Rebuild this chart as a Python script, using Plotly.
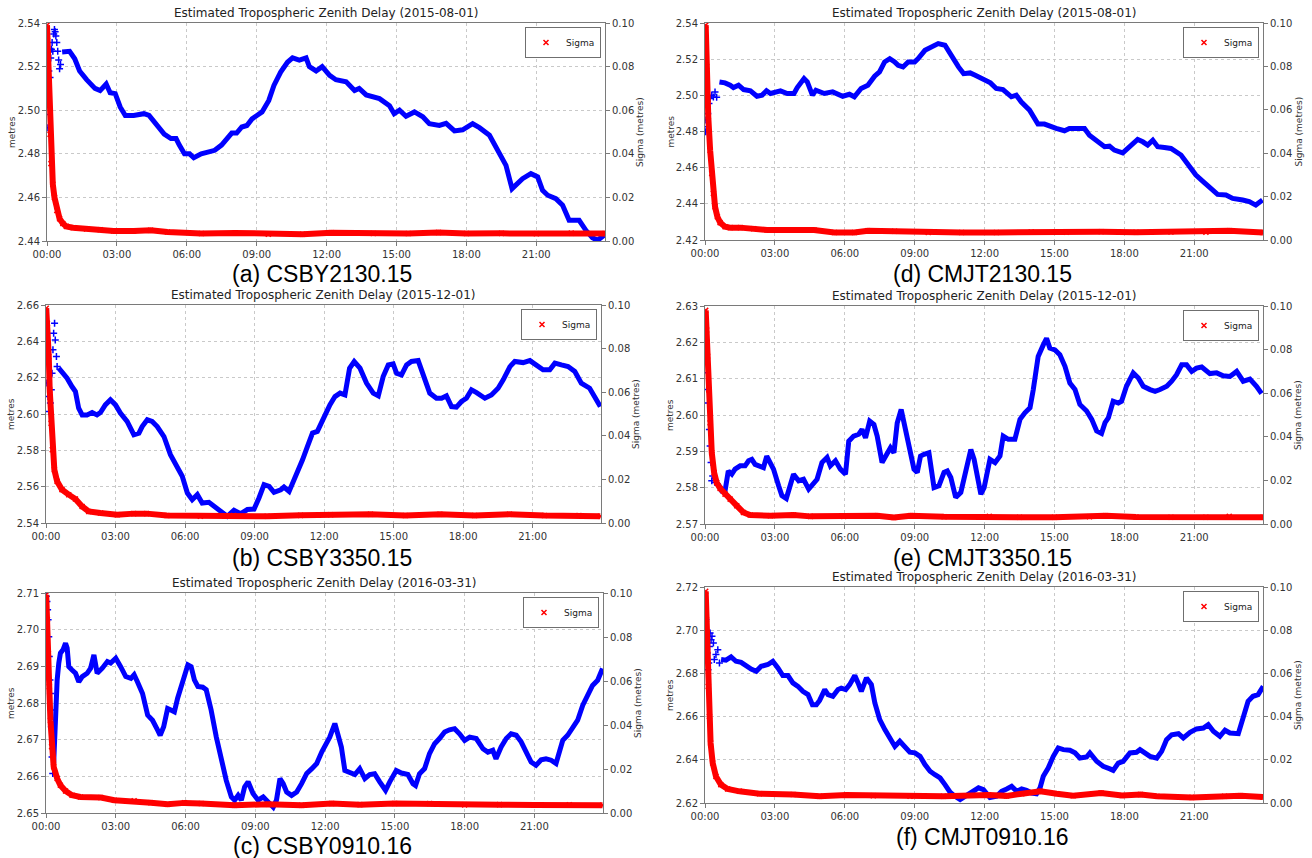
import plotly.graph_objects as go

# ---------------- DATA (hours of day, metres) ----------------
tick_hours = [0, 3, 6, 9, 12, 15, 18, 21]
tick_labels = ["00:00", "03:00", "06:00", "09:00", "12:00", "15:00", "18:00", "21:00"]

captions = ["(a) CSBY2130.15", "(d) CMJT2130.15", "(b) CSBY3350.15",
            "(e) CMJT3350.15", "(c) CSBY0910.16", "(f) CMJT0910.16"]
dates = ["2015-08-01", "2015-08-01", "2015-12-01", "2015-12-01", "2016-03-31", "2016-03-31"]

# (a) CSBY2130.15
a_early_t = [0.02, 0.04, 0.06, 0.08, 0.1, 0.13, 0.16, 0.19, 0.22, 0.25, 0.29, 0.32, 0.35, 0.38, 0.42, 0.46, 0.5, 0.54, 0.58]
a_early_v = [2.505, 2.492, 2.511, 2.518, 2.498, 2.515, 2.524, 2.528, 2.531, 2.527, 2.535, 2.537, 2.536, 2.534, 2.531, 2.527, 2.523, 2.519, 2.521]
a_t = [0.65, 0.97, 1.19, 1.4, 1.7, 2.06, 2.28, 2.54, 2.71, 2.93, 3.14, 3.36, 3.72, 4.16, 4.38, 4.74, 5.03, 5.32, 5.54, 5.68,
       5.9, 6.12, 6.3, 6.62, 6.91, 7.2, 7.49, 7.78, 7.93, 8.14, 8.36, 8.58, 8.8, 9.01, 9.23, 9.52, 9.74, 10.03, 10.32, 10.54,
       10.83, 11.12, 11.26, 11.55, 11.81, 12.13, 12.4, 12.84, 13.2, 13.4, 13.7, 14.27, 14.7, 14.9, 15.13, 15.41, 15.77, 16.13,
       16.41, 16.84, 17.13, 17.49, 17.84, 18.27, 18.56, 18.99, 19.41, 19.7, 19.96, 20.13, 20.41, 20.77, 21.06, 21.27, 21.49,
       21.84, 22.13, 22.41, 22.84, 23.13, 23.41, 23.63, 23.91]
a_v = [2.5267, 2.527, 2.5236, 2.518, 2.514, 2.510, 2.509, 2.512, 2.508, 2.5076, 2.5015, 2.4976, 2.4976, 2.4984, 2.4976, 2.493,
       2.489, 2.487, 2.487, 2.484, 2.480, 2.480, 2.4782, 2.480, 2.4808, 2.4816, 2.484, 2.4877, 2.4895, 2.4895, 2.4923, 2.493,
       2.496, 2.4976, 2.4992, 2.5045, 2.5114, 2.5175, 2.522, 2.524, 2.523, 2.524, 2.520, 2.518, 2.520, 2.516, 2.514, 2.513,
       2.509, 2.510, 2.507, 2.5053, 2.502, 2.4984, 2.500, 2.4972, 2.4992, 2.497, 2.4938, 2.493, 2.494, 2.4905, 2.491, 2.4938,
       2.492, 2.4885, 2.481, 2.4747, 2.464, 2.4655, 2.4686, 2.4709, 2.4694, 2.4632, 2.461, 2.4594, 2.4564, 2.4495, 2.4495,
       2.4449, 2.4415, 2.4403, 2.4426]
a_sig_t = [0, 0.02, 0.07, 0.13, 0.17, 0.25, 0.32, 0.42, 0.54, 0.68, 0.83, 1.12, 1.7, 2.28, 2.86, 3.72, 4.45, 5.17, 6.62, 8.07,
           9.5, 10.97, 12.2, 14, 15.5, 16.8, 18, 19.5, 21, 22.5, 23.95]
a_sig = [0.099, 0.092, 0.072, 0.049, 0.0355, 0.026, 0.020, 0.014, 0.0102, 0.008, 0.0067, 0.0061, 0.0055, 0.0052, 0.0046,
         0.0046, 0.0049, 0.0041, 0.0034, 0.0037, 0.0031, 0.0031, 0.0038, 0.0034, 0.0034, 0.0039, 0.0034, 0.0035, 0.0033,
         0.0036, 0.0034]

# (d) CMJT2130.15
d_early_t = [0.03, 0.04, 0.07, 0.09, 0.12, 0.17, 0.22, 0.29, 0.36, 0.43, 0.5]
d_early_v = [2.4798, 2.4863, 2.4826, 2.4936, 2.49, 2.4955, 2.4982, 2.500, 2.4991, 2.5019, 2.499]
d_t = [0.62, 0.86, 1.08, 1.22, 1.44, 1.66, 1.95, 2.23, 2.45, 2.64, 2.81, 3.24, 3.53, 3.82, 3.96, 4.25, 4.39, 4.61, 4.76, 5.12,
       5.48, 5.69, 5.91, 6.2, 6.41, 6.7, 6.99, 7.28, 7.49, 7.71, 7.93, 8.14, 8.29, 8.5, 8.72, 9.0, 9.15, 9.44, 9.73, 10.01,
       10.3, 10.59, 10.88, 11.1, 11.38, 11.6, 11.89, 12.25, 12.5, 12.79, 13.15, 13.36, 13.57, 13.93, 14.29, 14.57, 15.07,
       15.43, 15.64, 15.93, 16.29, 16.5, 16.79, 17.15, 17.36, 17.57, 17.93, 18.22, 18.57, 18.79, 19.0, 19.22, 19.43, 19.72,
       20.0, 20.43, 20.79, 21.07, 21.43, 21.72, 22.0, 22.36, 22.65, 23.08, 23.36, 23.64, 23.93]
d_v = [2.5074, 2.5069, 2.5056, 2.5043, 2.5056, 2.5032, 2.5025, 2.4995, 2.5001, 2.5025, 2.501, 2.5025, 2.501, 2.501, 2.5043,
       2.5093, 2.5074, 2.5001, 2.5028, 2.501, 2.5019, 2.5006, 2.4995, 2.5006, 2.4992, 2.5038, 2.5056, 2.5106, 2.513, 2.5185,
       2.5203, 2.5185, 2.5166, 2.5157, 2.5185, 2.5185, 2.5203, 2.5249, 2.5268, 2.5286, 2.5277, 2.5212, 2.5157, 2.512, 2.5124,
       2.5111, 2.5093, 2.5069, 2.5038, 2.5032, 2.4992, 2.5001, 2.4964, 2.4918, 2.4841, 2.4841, 2.4817, 2.4804, 2.4817, 2.4817,
       2.4817, 2.478, 2.4752, 2.4716, 2.4719, 2.4697, 2.4682, 2.4716, 2.4756, 2.4743, 2.4725, 2.4752, 2.4716, 2.4712, 2.4706,
       2.467, 2.4605, 2.4559, 2.4517, 2.448, 2.4452, 2.4449, 2.443, 2.4421, 2.4412, 2.4393, 2.4421]
d_sig_t = [0.03, 0.07, 0.14, 0.22, 0.29, 0.36, 0.43, 0.53, 0.65, 0.86, 1.08, 1.51, 2.09, 2.66, 3.82, 4.68, 5.55, 6.41, 6.99,
           8.14, 9.58, 11.02, 12.5, 14, 15.5, 17, 18.5, 20, 21.5, 22.5, 23.95]
d_sig = [0.099, 0.080, 0.057, 0.0414, 0.0307, 0.0215, 0.0153, 0.0107, 0.008, 0.0061, 0.0057, 0.0057, 0.0052, 0.0046, 0.0046,
         0.0046, 0.0035, 0.0035, 0.0043, 0.004, 0.0035, 0.0035, 0.0035, 0.0037, 0.0036, 0.0038, 0.0036, 0.0037, 0.0036,
         0.0043, 0.0035]

# (b) CSBY3350.15
b_early_t = [0.04, 0.09, 0.13, 0.19, 0.23, 0.26, 0.30, 0.33, 0.37, 0.40, 0.45, 0.48]
b_early_v = [2.617, 2.6096, 2.6014, 2.606, 2.6133, 2.6224, 2.6353, 2.6444, 2.6499, 2.6408, 2.6316, 2.6261]
b_t = [0.55, 0.69, 0.91, 1.12, 1.27, 1.41, 1.56, 1.77, 1.99, 2.2, 2.35, 2.56, 2.78, 3.0, 3.21, 3.5, 3.79, 4.01, 4.15, 4.37,
       4.58, 4.8, 5.09, 5.37, 5.66, 5.88, 6.1, 6.31, 6.53, 6.74, 7.03, 7.25, 7.54, 7.82, 8.11, 8.4, 8.69, 8.98, 9.19, 9.41,
       9.63, 9.84, 10.13, 10.27, 10.49, 10.78, 11.07, 11.28, 11.5, 11.71, 11.93, 12.25, 12.47, 12.69, 12.9, 13.1, 13.3,
       13.55, 13.83, 14.12, 14.34, 14.55, 14.77, 14.98, 15.13, 15.34, 15.56, 15.77, 16.06, 16.28, 16.56, 16.85, 17.07,
       17.28, 17.5, 17.71, 17.93, 18.14, 18.36, 18.58, 18.94, 19.22, 19.51, 19.73, 20.02, 20.23, 20.59, 20.88, 21.17,
       21.45, 21.74, 21.96, 22.24, 22.53, 22.82, 23.1, 23.46, 23.68, 23.92]
b_v = [2.6252, 2.6234, 2.6197, 2.6151, 2.6124, 2.6032, 2.5995, 2.5995, 2.6008, 2.5995, 2.6008, 2.605, 2.6078, 2.605, 2.6005,
       2.5959, 2.5886, 2.5895, 2.5931, 2.5968, 2.5959, 2.5931, 2.5876, 2.5776, 2.5711, 2.5657, 2.5565, 2.5528, 2.5556, 2.551,
       2.5514, 2.5492, 2.5464, 2.5437, 2.547, 2.5451, 2.5474, 2.5477, 2.5538, 2.5611, 2.5602, 2.5569, 2.5583, 2.5598, 2.5574,
       2.5657, 2.5748, 2.5821, 2.5895, 2.5904, 2.5968, 2.605, 2.6096, 2.6115, 2.6105, 2.6252, 2.6289, 2.6252, 2.617, 2.6115,
       2.61, 2.6206, 2.627, 2.6276, 2.6224, 2.6215, 2.627, 2.6289, 2.6294, 2.6206, 2.6115, 2.6087, 2.6087, 2.61, 2.6041,
       2.6038, 2.6069, 2.6087, 2.6133, 2.6118, 2.6087, 2.6105, 2.6142, 2.6188, 2.6261, 2.6289, 2.6283, 2.6294, 2.627,
       2.6243, 2.6243, 2.628, 2.627, 2.6261, 2.6234, 2.617, 2.6142, 2.6096, 2.6041]
b_sig_t = [0.01, 0.06, 0.12, 0.16, 0.22, 0.27, 0.36, 0.48, 0.69, 0.98, 1.27, 1.56, 1.84, 2.35, 3.07, 3.79, 4.35, 5.22, 6.66,
           8.1, 9.54, 10.99, 12.29, 14, 15.5, 17, 18.5, 20, 21.5, 23, 23.92]
b_sig = [0.0985, 0.0916, 0.0763, 0.061, 0.0458, 0.0336, 0.0244, 0.0191, 0.0153, 0.013, 0.011, 0.0076, 0.0053, 0.0046, 0.0038,
         0.0043, 0.0043, 0.0034, 0.0031, 0.0034, 0.0031, 0.0035, 0.0038, 0.004, 0.0034, 0.004, 0.0034, 0.004, 0.0034,
         0.0034, 0.0031]

# (e) CMJT3350.15
e_early_t = [0.03, 0.06, 0.09, 0.11, 0.14, 0.19, 0.22, 0.26, 0.29, 0.33, 0.43]
e_early_v = [2.6207, 2.6161, 2.6116, 2.607, 2.6033, 2.596, 2.5915, 2.5869, 2.5819, 2.5832, 2.5814]
e_t = [0.57, 0.72, 0.86, 1.0, 1.15, 1.29, 1.51, 1.72, 1.87, 2.01, 2.15, 2.37, 2.51, 2.65, 2.8, 2.94, 3.16, 3.3, 3.49, 3.66,
       3.8, 4.02, 4.23, 4.45, 4.66, 4.81, 5.02, 5.24, 5.38, 5.6, 5.81, 6.03, 6.17, 6.38, 6.6, 6.74, 6.89, 7.07, 7.25, 7.39,
       7.6, 7.82, 7.96, 8.11, 8.25, 8.42, 8.61, 8.75, 8.97, 9.11, 9.25, 9.4, 9.61, 9.83, 10.04, 10.26, 10.4, 10.55, 10.76,
       10.98, 11.19, 11.41, 11.55, 11.69, 11.84, 11.98, 12.23, 12.45, 12.66, 12.8, 13.02, 13.3, 13.52, 13.73, 13.95, 14.09,
       14.3, 14.52, 14.66, 14.8, 15.02, 15.23, 15.45, 15.66, 15.88, 16.09, 16.38, 16.6, 16.81, 17.02, 17.17, 17.31, 17.52,
       17.74, 17.88, 18.09, 18.38, 18.6, 18.81, 19.1, 19.32, 19.53, 19.82, 20.03, 20.24, 20.46, 20.67, 20.89, 21.1, 21.32,
       21.67, 21.96, 22.24, 22.53, 22.82, 23.1, 23.39, 23.67, 23.89]
e_v = [2.581, 2.5791, 2.5791, 2.5846, 2.5837, 2.5851, 2.586, 2.586, 2.5874, 2.5878, 2.5864, 2.586, 2.5855, 2.5887, 2.5864,
       2.5851, 2.5805, 2.5778, 2.577, 2.5805, 2.5837, 2.5819, 2.5823, 2.5796, 2.581, 2.5823, 2.5869, 2.5883, 2.586, 2.5874,
       2.5851, 2.5837, 2.5928, 2.5942, 2.5947, 2.596, 2.5937, 2.5983, 2.5974, 2.5942, 2.5869, 2.5892, 2.591, 2.5896, 2.5978,
       2.6015, 2.596, 2.5915, 2.5851, 2.5842, 2.5887, 2.5892, 2.5896, 2.58, 2.5805, 2.5842, 2.5846, 2.5828, 2.5773, 2.5787,
       2.5851, 2.5905, 2.5878, 2.5828, 2.5782, 2.58, 2.5878, 2.5869, 2.5887, 2.5942, 2.5933, 2.5933, 2.5988, 2.6006, 2.602,
       2.607, 2.6161, 2.6193, 2.6211, 2.6184, 2.6179, 2.6166, 2.6134, 2.6088, 2.607, 2.6029, 2.6011, 2.5988, 2.5956, 2.5949,
       2.5979, 2.5992, 2.6038, 2.6033, 2.6038, 2.6079, 2.6116, 2.6102, 2.6079, 2.607, 2.6065, 2.607, 2.6079, 2.6093, 2.6111,
       2.6138, 2.6138, 2.612, 2.6129, 2.6132, 2.6114, 2.6116, 2.6108, 2.6106, 2.612, 2.6093, 2.6099, 2.6079, 2.6059]
e_sig_t = [0.03, 0.07, 0.11, 0.16, 0.22, 0.29, 0.39, 0.5, 0.65, 0.86, 1.08, 1.36, 1.65, 1.94, 2.8, 3.8, 4.52, 5.96, 7.39,
           8.11, 8.82, 10.26, 12.2, 13.5, 15, 16.5, 17.2, 18.5, 20, 21.5, 22.5, 23.95]
e_sig = [0.098, 0.089, 0.077, 0.0616, 0.0464, 0.0327, 0.0236, 0.019, 0.0163, 0.0137, 0.0114, 0.0084, 0.0053, 0.0041, 0.0038,
         0.0041, 0.0035, 0.0035, 0.0038, 0.003, 0.0038, 0.0033, 0.0035, 0.0031, 0.0031, 0.0033, 0.0038, 0.0032, 0.0031,
         0.0031, 0.0035, 0.0031]

# (c) CSBY0910.16
c_early_t = [0.01, 0.04, 0.07, 0.09, 0.12, 0.14, 0.17, 0.19, 0.22, 0.23, 0.26, 0.29]
c_early_v = [2.7091, 2.7077, 2.7054, 2.7027, 2.6981, 2.6927, 2.6863, 2.6826, 2.6781, 2.6735, 2.6653, 2.6608]
c_t = [0.33, 0.37, 0.42, 0.48, 0.55, 0.62, 0.73, 0.84, 0.91, 0.98, 1.12, 1.27, 1.41, 1.56, 1.77, 1.92, 2.06, 2.2, 2.42, 2.64,
       2.78, 3.0, 3.21, 3.43, 3.65, 3.79, 3.93, 4.15, 4.37, 4.58, 4.8, 4.91, 5.06, 5.23, 5.37, 5.52, 5.66, 5.88, 6.1, 6.24,
       6.38, 6.53, 6.74, 6.89, 7.1, 7.32, 7.54, 7.75, 7.97, 8.11, 8.26, 8.4, 8.54, 8.69, 8.9, 9.12, 9.34, 9.55, 9.77, 9.91,
       10.06, 10.2, 10.35, 10.56, 10.78, 10.99, 11.21, 11.43, 11.64, 11.86, 12.07, 12.2, 12.42, 12.56, 12.7, 12.85, 13.06,
       13.28, 13.49, 13.71, 13.92, 14.13, 14.35, 14.6, 14.78, 15.06, 15.28, 15.56, 15.78, 15.89, 16.06, 16.28, 16.49, 16.71,
       16.92, 17.14, 17.35, 17.57, 17.78, 18.0, 18.22, 18.5, 18.79, 19.0, 19.21, 19.35, 19.57, 19.79, 20.0, 20.22, 20.43,
       20.65, 20.86, 21.07, 21.29, 21.5, 21.72, 21.93, 22.07, 22.22, 22.43, 22.65, 22.86, 23.08, 23.29, 23.5, 23.72, 23.93]
c_v = [2.6635, 2.6726, 2.6799, 2.6863, 2.6909, 2.6936, 2.6945, 2.6963, 2.695, 2.6899, 2.689, 2.6881, 2.6858, 2.6872, 2.6881,
       2.6895, 2.6931, 2.6881, 2.6895, 2.6913, 2.6909, 2.6922, 2.6899, 2.6872, 2.6867, 2.6877, 2.6858, 2.6826, 2.6767,
       2.6753, 2.6726, 2.6712, 2.6735, 2.6785, 2.6781, 2.6776, 2.6813, 2.6863, 2.6904, 2.6899, 2.6863, 2.6845, 2.6843,
       2.6836, 2.6781, 2.6708, 2.6644, 2.6589, 2.6544, 2.6535, 2.6548, 2.6535, 2.6571, 2.6585, 2.6553, 2.6535, 2.6544,
       2.653, 2.6516, 2.6535, 2.6594, 2.658, 2.6557, 2.6548, 2.6557, 2.658, 2.6608, 2.6621, 2.6635, 2.6667, 2.669, 2.6707,
       2.6744, 2.6712, 2.668, 2.6616, 2.6612, 2.6605, 2.6621, 2.6594, 2.6605, 2.6607, 2.6585, 2.6562, 2.6585, 2.6616,
       2.6609, 2.6605, 2.658, 2.6575, 2.6607, 2.6621, 2.6662, 2.6689, 2.6703, 2.6721, 2.6727, 2.673, 2.6716, 2.6698,
       2.6707, 2.6703, 2.6675, 2.6666, 2.6671, 2.6648, 2.668, 2.6703, 2.6716, 2.6712, 2.6694, 2.6662, 2.6639, 2.663,
       2.6645, 2.6648, 2.6644, 2.6635, 2.6662, 2.6698, 2.6712, 2.6735, 2.6753, 2.6794, 2.6825, 2.6848, 2.6862, 2.6894]
c_sig_t = [0.01, 0.06, 0.1, 0.14, 0.19, 0.24, 0.33, 0.48, 0.62, 0.84, 1.12, 1.48, 2.36, 2.94, 3.79, 4.51, 5.23, 5.95, 6.67,
           8.11, 9.55, 10.99, 12.29, 13.5, 15, 16.5, 18, 19.5, 21, 22.5, 23.93]
c_sig = [0.0992, 0.0878, 0.0726, 0.0574, 0.0422, 0.0301, 0.021, 0.0157, 0.0126, 0.01, 0.0081, 0.0073, 0.007, 0.0058, 0.0055,
         0.0047, 0.004, 0.0046, 0.0043, 0.0035, 0.004, 0.0035, 0.0043, 0.0038, 0.0043, 0.0043, 0.0037, 0.0038, 0.0036,
         0.0037, 0.0035]

# (f) CMJT0910.16
f_early_t = [0.01, 0.04, 0.07, 0.1, 0.13, 0.16, 0.19, 0.22, 0.26, 0.3, 0.36, 0.4, 0.47, 0.55, 0.62]
f_early_v = [2.711, 2.7049, 2.6972, 2.6894, 2.6817, 2.6848, 2.6925, 2.6987, 2.6956, 2.6972, 2.6941, 2.6864, 2.6887, 2.691, 2.6848]
f_t = [0.69, 0.9, 1.12, 1.33, 1.55, 1.76, 1.98, 2.2, 2.41, 2.7, 2.91, 3.13, 3.34, 3.56, 3.77, 3.99, 4.2, 4.42, 4.61, 4.78,
       4.92, 5.14, 5.28, 5.49, 5.71, 5.85, 6.04, 6.21, 6.43, 6.57, 6.71, 6.93, 7.14, 7.29, 7.5, 7.72, 7.93, 8.15, 8.36, 8.58,
       8.79, 9.01, 9.23, 9.44, 9.66, 9.87, 10.09, 10.3, 10.52, 10.73, 10.95, 11.16, 11.45, 11.74, 11.95, 12.23, 12.52,
       12.73, 12.95, 13.16, 13.38, 13.59, 13.8, 14.02, 14.23, 14.38, 14.52, 14.73, 14.95, 15.16, 15.38, 15.66, 15.88, 16.09,
       16.38, 16.52, 16.81, 17.09, 17.38, 17.52, 17.74, 17.95, 18.24, 18.52, 18.67, 18.88, 19.1, 19.39, 19.6, 19.81, 20.03,
       20.32, 20.53, 20.82, 21.1, 21.39, 21.6, 21.82, 22.1, 22.32, 22.53, 22.89, 23.1, 23.31, 23.52, 23.74, 23.96]
f_v = [2.6864, 2.6861, 2.6876, 2.6856, 2.6851, 2.6833, 2.682, 2.681, 2.6833, 2.6841, 2.6856, 2.6825, 2.679, 2.679, 2.6756,
       2.674, 2.6717, 2.6702, 2.6655, 2.6655, 2.6675, 2.6725, 2.6702, 2.6694, 2.6725, 2.6732, 2.6725, 2.6748, 2.679, 2.6756,
       2.6717, 2.6779, 2.6748, 2.6663, 2.6586, 2.654, 2.6501, 2.6462, 2.6486, 2.6462, 2.6435, 2.6432, 2.6416, 2.6378,
       2.6347, 2.6331, 2.6316, 2.6285, 2.625, 2.6231, 2.6216, 2.6231, 2.6254, 2.627, 2.6262, 2.6225, 2.6231, 2.6254, 2.6265,
       2.6277, 2.6254, 2.6265, 2.6259, 2.6246, 2.6243, 2.627, 2.6324, 2.6362, 2.6416, 2.6455, 2.6447, 2.6444, 2.6432,
       2.6408, 2.6413, 2.6432, 2.6393, 2.637, 2.6358, 2.6351, 2.6385, 2.6393, 2.6432, 2.6435, 2.6447, 2.6435, 2.6416,
       2.6408, 2.6439, 2.6493, 2.6516, 2.6521, 2.6501, 2.6527, 2.6543, 2.6547, 2.6563, 2.6532, 2.6509, 2.6537, 2.6524,
       2.6521, 2.6601, 2.6671, 2.6694, 2.6702, 2.674]
f_sig_t = [0.03, 0.06, 0.1, 0.14, 0.19, 0.24, 0.33, 0.47, 0.68, 0.97, 1.48, 2.34, 3.78, 4.92, 6.07, 7.22, 8.8, 10.23, 12.17,
           12.95, 13.6, 14.4, 15.1, 15.8, 17.0, 17.9, 18.7, 19.4, 20.9, 22.3, 23.0, 23.95]
f_sig = [0.098, 0.0849, 0.0694, 0.054, 0.0401, 0.0278, 0.0185, 0.0123, 0.0085, 0.0065, 0.0054, 0.0043, 0.0039, 0.0031,
         0.0037, 0.0034, 0.0031, 0.0031, 0.0037, 0.0033, 0.0043, 0.0054, 0.0043, 0.0034, 0.0046, 0.0035, 0.0039, 0.0031,
         0.0026, 0.0031, 0.0034, 0.0028]

series = [
    (a_early_t, a_early_v, a_t, a_v, a_sig_t, a_sig),
    (d_early_t, d_early_v, d_t, d_v, d_sig_t, d_sig),
    (b_early_t, b_early_v, b_t, b_v, b_sig_t, b_sig),
    (e_early_t, e_early_v, e_t, e_v, e_sig_t, e_sig),
    (c_early_t, c_early_v, c_t, c_v, c_sig_t, c_sig),
    (f_early_t, f_early_v, f_t, f_v, f_sig_t, f_sig),
]

# ---------------- LAYOUT (pixel boxes: left, right, top, bottom) ----------------
W, H = 1312, 858
boxes = [(47, 605, 23, 241), (705, 1263, 23, 240),
         (46, 601, 305, 523), (705, 1263, 306, 524),
         (46, 603, 593, 813), (705, 1263, 587, 803)]
yranges = [(2.44, 2.54, 0.02), (2.42, 2.54, 0.02), (2.54, 2.66, 0.02),
           (2.57, 2.63, 0.01), (2.65, 2.71, 0.01), (2.62, 2.72, 0.02)]
caption_pos = [(322, 274), (982, 274), (322, 558), (982, 558), (322, 846), (982, 837)]

TICKFONT = dict(family="DejaVu Sans", size=10, color="#333333")
LABELFONT = dict(family="DejaVu Sans", size=9, color="#333333")
FRAME = "#7a7a7a"
GRID = "#c9c9c9"


def px_x(p):
    return p / W


def px_y(p):
    return 1 - p / H


fig = go.Figure()
layout = dict(width=W, height=H, margin=dict(l=0, r=0, t=0, b=0, autoexpand=False),
              paper_bgcolor="white", plot_bgcolor="white", showlegend=True)
annotations = []

for i, (box, yr, ser) in enumerate(zip(boxes, yranges, series)):
    n = i + 1
    xl, xr, yt, yb = box
    xa = "xaxis" if n == 1 else f"xaxis{n}"
    ya_l = 2 * n - 1
    ya_r = 2 * n
    yl_name = "yaxis" if ya_l == 1 else f"yaxis{ya_l}"
    yr_name = f"yaxis{ya_r}"
    xref = "x" if n == 1 else f"x{n}"
    yl_ref = "y" if ya_l == 1 else f"y{ya_l}"
    yr_ref = f"y{ya_r}"
    leg = "legend" if n == 1 else f"legend{n}"

    dom_x = [px_x(xl), px_x(xr)]
    dom_y = [px_y(yb), px_y(yt)]

    layout[xa] = dict(domain=dom_x, anchor=yl_ref, range=[0, 23.95], automargin=False,
                      tickvals=tick_hours, ticktext=tick_labels,
                      showline=True, mirror=True, linecolor=FRAME, linewidth=1,
                      ticks="outside", ticklen=4, tickcolor=FRAME, tickfont=TICKFONT,
                      showgrid=True, gridcolor=GRID, griddash="dot", gridwidth=1, zeroline=False)
    y0, y1, dt = yr
    layout[yl_name] = dict(domain=dom_y, anchor=xref, range=[y0, y1], dtick=dt, tick0=y0, automargin=False,
                           tickformat=".2f", showline=True, mirror=True, linecolor=FRAME, linewidth=1,
                           ticks="outside", ticklen=4, tickcolor=FRAME, tickfont=TICKFONT,
                           showgrid=True, gridcolor=GRID, griddash="dot", gridwidth=1, zeroline=False)
    layout[yr_name] = dict(overlaying=yl_ref, side="right", anchor=xref, range=[0, 0.1], dtick=0.02,
                           automargin=False,
                           tickformat=".2f", showline=True, linecolor=FRAME, linewidth=1,
                           ticks="outside", ticklen=4, tickcolor=FRAME, tickfont=TICKFONT,
                           showgrid=False, zeroline=False)
    layout[leg] = dict(x=px_x(xr - 4), y=px_y(yt + 4), xanchor="right", yanchor="top",
                       bgcolor="white", bordercolor="#6f6f6f", borderwidth=1,
                       font=dict(family="DejaVu Sans", size=9, color="#222222"),
                       itemwidth=30, tracegroupgap=0)

    et, ev, t, v, st, sv = ser
    fig.add_trace(go.Scatter(x=et, y=ev, xaxis=xref, yaxis=yl_ref, mode="markers", showlegend=False,
                             marker=dict(symbol="cross-thin", size=5, color="blue",
                                         line=dict(color="blue", width=1.5))))
    fig.add_trace(go.Scatter(x=t, y=v, xaxis=xref, yaxis=yl_ref, mode="lines", showlegend=False,
                             line=dict(color="blue", width=5)))
    fig.add_trace(go.Scatter(x=st, y=sv, xaxis=xref, yaxis=yr_ref, mode="lines", showlegend=False,
                             line=dict(color="red", width=6)))
    fig.add_trace(go.Scatter(x=st, y=sv, xaxis=xref, yaxis=yr_ref, mode="markers", name="Sigma",
                             legend=leg, showlegend=True,
                             marker=dict(symbol="x-thin", size=5, color="red",
                                         line=dict(color="red", width=1.5))))

    # panel title
    annotations.append(dict(text=f"Estimated Tropospheric Zenith Delay ({dates[i]})",
                            x=px_x((xl + xr) / 2), y=px_y(yt - 10), xref="paper", yref="paper",
                            xanchor="center", yanchor="middle", showarrow=False,
                            font=dict(family="DejaVu Sans", size=12, color="#222222")))
    # axis titles
    annotations.append(dict(text="metres", x=px_x(xl - 35), y=px_y((yt + yb) / 2), xref="paper", yref="paper",
                            xanchor="center", yanchor="middle", showarrow=False, textangle=-90,
                            font=LABELFONT))
    annotations.append(dict(text="Sigma (metres)", x=px_x(xr + 35), y=px_y((yt + yb) / 2), xref="paper",
                            yref="paper", xanchor="center", yanchor="middle", showarrow=False, textangle=-90,
                            font=LABELFONT))
    # caption
    cx, cy = caption_pos[i]
    annotations.append(dict(text=captions[i], x=px_x(cx), y=px_y(cy), xref="paper", yref="paper",
                            xanchor="center", yanchor="middle", showarrow=False,
                            font=dict(family="Liberation Sans", size=23, color="black")))

layout["annotations"] = annotations
fig.update_layout(**layout)
fig.write_html("out.html",
               config={"displayModeBar": False},
               post_script="document.body.style.margin='0';document.body.style.padding='0';"
                           "document.documentElement.style.overflow='hidden';")
